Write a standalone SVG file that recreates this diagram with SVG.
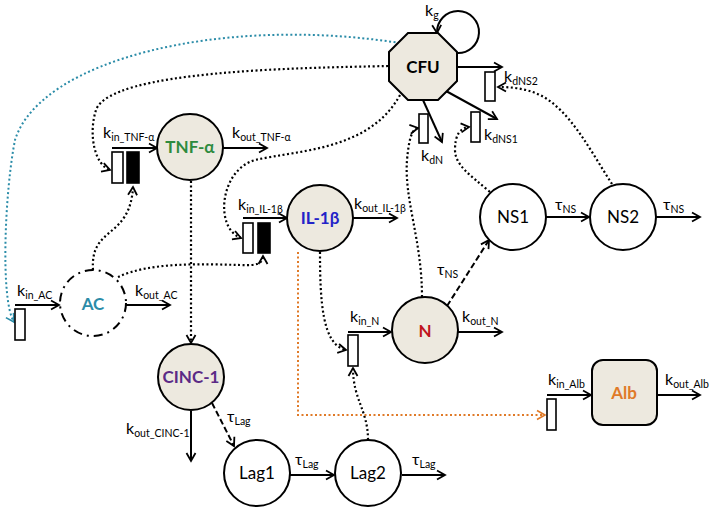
<svg xmlns="http://www.w3.org/2000/svg" width="709" height="508" viewBox="0 0 709 508">
<defs>
<marker id="ah" markerUnits="userSpaceOnUse" markerWidth="14" markerHeight="14" refX="9" refY="5" orient="auto" overflow="visible">
<path d="M1,0.5 L9,5 L1,9.5" fill="none" stroke="#000" stroke-width="1.8" stroke-dasharray="none"/>
</marker>
<marker id="ahb" markerUnits="userSpaceOnUse" markerWidth="14" markerHeight="14" refX="9" refY="5" orient="auto" overflow="visible">
<path d="M1,0.5 L9,5 L1,9.5" fill="none" stroke="#2b8ca8" stroke-width="1.6" stroke-dasharray="none"/>
</marker>
<marker id="aho" markerUnits="userSpaceOnUse" markerWidth="14" markerHeight="14" refX="9" refY="5" orient="auto" overflow="visible">
<path d="M1,0.5 L9,5 L1,9.5" fill="none" stroke="#e07a28" stroke-width="1.6" stroke-dasharray="none"/>
</marker>
</defs>
<style>
.n{fill:#ede9df;stroke:#000;stroke-width:2}
.w{fill:#fff;stroke:#000;stroke-width:2}
.box{fill:#fff;stroke:#000;stroke-width:1.6}
.blk{fill:#000;stroke:#000;stroke-width:1.6}
.s{fill:none;stroke:#000;stroke-width:2;marker-end:url(#ah)}
.d{fill:none;stroke:#000;stroke-width:2;stroke-dasharray:6 3;marker-end:url(#ah)}
.t{fill:none;stroke:#000;stroke-width:2.2;stroke-dasharray:2 2.5;marker-end:url(#ah)}
.tb{fill:none;stroke:#2b8ca8;stroke-width:2;stroke-dasharray:2 2.5;marker-end:url(#ahb)}
.to{fill:none;stroke:#e07a28;stroke-width:2;stroke-dasharray:2 2.5;marker-end:url(#aho)}
text{font-family:Lato,"Liberation Sans",sans-serif;fill:#000}
.lb{font-size:16px}
.nl{font-size:17px;font-weight:bold;text-anchor:middle}
.pl{font-size:17px;text-anchor:middle}
.sb{font-size:10.5px}
</style>

<g id="connectors">
<path class="s" d="M112,148 H157"/>
<path class="s" d="M223,148 H267"/>
<path class="s" d="M243,218 H287"/>
<path class="s" d="M353,218 H397"/>
<path class="s" d="M15,305 H59"/>
<path class="s" d="M126,305 H170"/>
<path class="s" d="M348,332 H391"/>
<path class="s" d="M458,332 H502"/>
<path class="s" d="M547,395 H591"/>
<path class="s" d="M657,395 H700"/>
<path class="s" d="M546,217 H589"/>
<path class="s" d="M656,217 H700"/>
<path class="s" d="M290,475 H334"/>
<path class="s" d="M402,475 H445"/>
<path class="s" d="M191,411 V461"/>
<path class="s" d="M458,67 H502"/>
<path class="s" d="M446,91 L497,119"/>
<path class="s" d="M423,100 L442,142"/>
<path class="s" d="M456,53 A21,21 0 1 0 437,33"/>
<path class="d" d="M447,306 L489,240"/>
<path class="d" d="M212,403 L234,446"/>
<path class="t" d="M388,66 C300,68 110,70 96,110 C88,135 95,165 110,170"/>
<path class="t" d="M400,95 C370,150 300,150 255,160 C220,170 214,228 241,238"/>
<path class="t" d="M93,270 C90,225 130,240 133,187"/>
<path class="t" d="M118,277 C150,262 200,264 240,265 C258,266 263,263 263,256"/>
<path class="t" d="M191,181 V343"/>
<path class="t" d="M320,252 C320,300 322,345 346,350"/>
<path class="t" d="M368,440 C368,410 353,400 353,368"/>
<path class="t" d="M422,297 C422,240 404,200 407,160 C409,138 412,129 418,128"/>
<path class="t" d="M490,192 C470,175 455,165 455,150 C455,135 460,128 469,127"/>
<path class="t" d="M612,184 C590,150 570,110 540,95 C525,88 510,87 498,87"/>
<path class="tb" d="M400,43 C220,15 40,60 15,140 C5,190 0,300 14,322"/>
<path class="to" d="M298,252 V415 H545"/>
</g>

<g id="boxes">
<rect class="box" x="112" y="152" width="11" height="31"/>
<rect class="blk" x="127" y="152" width="12" height="31"/>
<rect class="box" x="243" y="223" width="10" height="30"/>
<rect class="blk" x="258" y="223" width="12" height="30"/>
<rect class="box" x="15" y="309" width="10" height="31"/>
<rect class="box" x="348" y="335" width="10" height="31"/>
<rect class="box" x="547" y="399" width="9" height="31"/>
<rect class="box" x="419" y="114" width="9" height="29"/>
<rect class="box" x="471" y="112" width="9" height="30"/>
<rect class="box" x="485" y="72" width="10" height="29"/>
</g>

<g id="CFU">
<polygon class="n" points="408,33 438,33 457,52 457,81 438,100 408,100 389,81 389,52"/>
<text class="nl" x="423" y="73">CFU</text>
</g>
<g id="TNF">
<circle class="n" cx="190" cy="147" r="33"/>
<text class="nl" x="190" y="153" style="fill:#2e8b3e">TNF-α</text>
</g>
<g id="IL1b">
<circle class="n" cx="320" cy="218" r="33"/>
<text class="nl" x="320" y="224" style="fill:#2323c8">IL-1β</text>
</g>
<g id="AC">
<circle cx="93" cy="303" r="33" fill="none" stroke="#000" stroke-width="2" stroke-dasharray="9 5 2 5"/>
<text class="nl" x="93" y="310" style="fill:#2b8ca8">AC</text>
</g>
<g id="N">
<circle class="n" cx="425" cy="330" r="33"/>
<text class="nl" x="425" y="337" style="fill:#c0141e">N</text>
</g>
<g id="CINC1">
<circle class="n" cx="191" cy="377" r="33"/>
<text class="nl" x="191" y="383" style="fill:#5b2a86">CINC-1</text>
</g>
<g id="Alb">
<rect class="n" x="592" y="360" width="65" height="65" rx="11"/>
<text class="nl" x="624" y="399" style="fill:#e07a28">Alb</text>
</g>
<g id="NS1">
<circle class="w" cx="513" cy="217" r="33"/>
<text class="pl" x="513" y="223">NS1</text>
</g>
<g id="NS2">
<circle class="w" cx="623" cy="217" r="33"/>
<text class="pl" x="623" y="223">NS2</text>
</g>
<g id="Lag1">
<circle class="w" cx="257" cy="473" r="33"/>
<text class="pl" x="257" y="479">Lag1</text>
</g>
<g id="Lag2">
<circle class="w" cx="368" cy="473" r="33"/>
<text class="pl" x="368" y="479">Lag2</text>
</g>

<g id="labels">
<text class="lb" x="425" y="16">k<tspan class="sb" dy="3">g</tspan></text>
<text class="lb" x="504" y="82">k<tspan class="sb" dy="3">dNS2</tspan></text>
<text class="lb" x="484" y="140">k<tspan class="sb" dy="3">dNS1</tspan></text>
<text class="lb" x="421" y="161">k<tspan class="sb" dy="3">dN</tspan></text>
<text class="lb" x="103" y="138">k<tspan class="sb" dy="3">in_TNF-α</tspan></text>
<text class="lb" x="232" y="138">k<tspan class="sb" dy="3">out_TNF-α</tspan></text>
<text class="lb" x="238" y="210">k<tspan class="sb" dy="3">in_IL-1β</tspan></text>
<text class="lb" x="354" y="209">k<tspan class="sb" dy="3">out_IL-1β</tspan></text>
<text class="lb" x="17" y="296">k<tspan class="sb" dy="3">in_AC</tspan></text>
<text class="lb" x="135" y="296">k<tspan class="sb" dy="3">out_AC</tspan></text>
<text class="lb" x="350" y="322">k<tspan class="sb" dy="3">in_N</tspan></text>
<text class="lb" x="462" y="322">k<tspan class="sb" dy="3">out_N</tspan></text>
<text class="lb" x="548" y="385">k<tspan class="sb" dy="3">in_Alb</tspan></text>
<text class="lb" x="665" y="385">k<tspan class="sb" dy="3">out_Alb</tspan></text>
<text class="lb" x="126" y="434">k<tspan class="sb" dy="3">out_CINC-1</tspan></text>
<text class="lb" x="437" y="275">τ<tspan class="sb" dy="3">NS</tspan></text>
<text class="lb" x="555" y="210">τ<tspan class="sb" dy="3">NS</tspan></text>
<text class="lb" x="663" y="210">τ<tspan class="sb" dy="3">NS</tspan></text>
<text class="lb" x="227" y="422">τ<tspan class="sb" dy="3">Lag</tspan></text>
<text class="lb" x="295" y="465">τ<tspan class="sb" dy="3">Lag</tspan></text>
<text class="lb" x="412" y="465">τ<tspan class="sb" dy="3">Lag</tspan></text>
</g>
</svg>
